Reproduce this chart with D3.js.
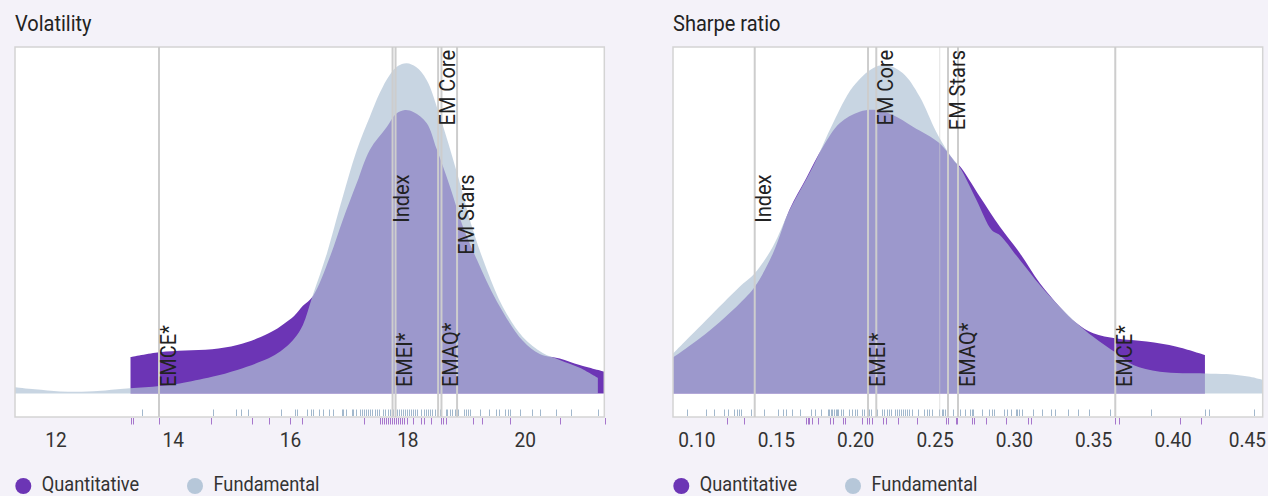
<!DOCTYPE html>
<html>
<head>
<meta charset="utf-8">
<script src="https://cdn.jsdelivr.net/npm/d3@7"></script>
<style>
  html, body { margin: 0; padding: 0; background: #f4f2f9; }
  svg { display: block; }
  text { font-family: Roboto, "Noto Sans", sans-serif; }
</style>
</head>
<body>
<svg id="chart" width="1268" height="496"></svg>
<script>
// ---------------- DATA ----------------
const seriesNames = ["Quantitative", "Fundamental"];
const panelTitles = ["Volatility", "Sharpe ratio"];

const volDomain = [11.30, 21.35];
const volTicks = [12, 14, 16, 18, 20];
const sharpeDomain = [0.0849, 0.4565];
const sharpeTicks = [0.10, 0.15, 0.20, 0.25, 0.30, 0.35, 0.40, 0.45];

// density curves: [value, relative density]
const volFundDensity = [
  [11.30,0.018],[11.64,0.012],[12.07,0.006],[12.44,0.005],[12.84,0.009],[13.26,0.015],
  [13.77,0.022],[14.11,0.029],[14.66,0.048],[15.09,0.068],[15.49,0.092],[15.73,0.111],
  [15.92,0.134],[16.07,0.160],[16.21,0.198],[16.38,0.284],[16.62,0.405],[16.84,0.538],
  [17.13,0.703],[17.35,0.798],[17.52,0.867],[17.69,0.919],[17.83,0.945],[17.98,0.953],
  [18.14,0.942],[18.32,0.905],[18.55,0.798],[18.84,0.636],[19.11,0.472],[19.35,0.356],
  [19.62,0.250],[19.96,0.163],[20.30,0.117],[20.59,0.097],[20.93,0.074],[21.24,0.045]
];
const volQuantDensity = [
  [13.27,0.105],[13.76,0.119],[14.20,0.124],[14.66,0.128],[15.09,0.140],[15.49,0.163],
  [15.73,0.183],[15.90,0.203],[16.06,0.224],[16.21,0.253],[16.38,0.281],[16.67,0.394],
  [16.89,0.501],[17.13,0.608],[17.35,0.703],[17.64,0.769],[17.80,0.807],[17.95,0.818],
  [18.10,0.812],[18.32,0.781],[18.49,0.706],[18.72,0.596],[18.94,0.481],[19.18,0.385],
  [19.52,0.265],[19.96,0.152],[20.25,0.114],[20.59,0.101],[20.93,0.082],[21.35,0.063]
];
const sharpeFundDensity = [
  [0.0849,0.115],[0.1059,0.212],[0.1269,0.308],[0.1364,0.347],[0.1479,0.424],[0.1584,0.530],
  [0.1731,0.655],[0.1857,0.780],[0.1983,0.885],[0.2109,0.939],[0.2193,0.948],[0.2298,0.924],
  [0.2403,0.857],[0.2508,0.755],[0.2592,0.690],[0.2657,0.652],[0.2762,0.558],[0.2857,0.472],
  [0.2909,0.457],[0.3035,0.385],[0.3161,0.313],[0.3287,0.250],[0.3393,0.203],[0.3497,0.164],
  [0.3645,0.116],[0.3749,0.082],[0.3917,0.063],[0.4201,0.058],[0.4338,0.056],[0.4485,0.048],
  [0.4565,0.039]
];
const sharpeQuantDensity = [
  [0.0849,0.104],[0.1059,0.174],[0.1269,0.260],[0.1364,0.308],[0.1479,0.405],[0.1584,0.532],
  [0.1689,0.622],[0.1794,0.712],[0.1899,0.780],[0.2025,0.813],[0.2130,0.818],[0.2235,0.804],
  [0.2361,0.770],[0.2529,0.722],[0.2634,0.664],[0.2657,0.656],[0.2783,0.568],[0.2909,0.481],
  [0.3035,0.405],[0.3161,0.318],[0.3287,0.250],[0.3393,0.203],[0.3497,0.174],[0.3645,0.159],
  [0.3834,0.150],[0.4023,0.135],[0.4201,0.111]
];

// rug values (individual funds)
const volFundRug = [13.46,14.67,15.07,15.15,15.28,15.84,16.08,16.11,16.28,16.35,16.39,16.48,16.55,
  16.65,16.73,16.87,16.90,16.95,17.04,17.07,17.11,17.18,17.22,17.25,17.28,17.32,17.35,17.39,17.44,
  17.47,17.51,17.58,17.61,17.66,17.69,17.74,17.78,17.81,17.85,17.88,17.91,17.95,17.98,18.02,18.05,
  18.08,18.12,18.15,18.23,18.27,18.31,18.35,18.37,18.42,18.46,18.50,18.55,18.65,18.67,18.72,18.76,
  18.80,18.85,18.95,18.99,19.03,19.06,19.23,19.38,19.51,19.56,19.66,19.71,19.75,19.91,20.11,20.25,
  20.52,20.79,21.24];
const volQuantRug = [13.27,13.32,13.76,14.64,15.34,15.63,15.99,16.20,17.26,17.52,17.56,17.59,17.62,
  17.66,17.69,17.73,17.76,17.80,17.83,17.86,17.90,17.93,17.98,18.08,18.22,18.28,18.40,18.57,18.60,
  18.65,19.11,19.26,19.74,20.60,21.36];
const sharpeFundRug = [0.0939,0.1055,0.1109,0.1172,0.1197,0.1235,0.1250,0.1265,0.1277,0.1340,0.1424,
  0.1512,0.1540,0.1561,0.1601,0.1649,0.1718,0.1744,0.1779,0.1824,0.1835,0.1845,0.1854,0.1863,0.1873,
  0.1882,0.1890,0.1907,0.1922,0.1958,0.1975,0.1997,0.2006,0.2038,0.2052,0.2084,0.2096,0.2136,0.2166,
  0.2178,0.2195,0.2212,0.2222,0.2248,0.2260,0.2273,0.2285,0.2298,0.2311,0.2323,0.2336,0.2353,0.2394,
  0.2430,0.2447,0.2462,0.2479,0.2527,0.2541,0.2553,0.2563,0.2573,0.2611,0.2657,0.2692,0.2720,0.2731,
  0.2741,0.2794,0.2842,0.2857,0.2871,0.2934,0.2951,0.2977,0.3010,0.3018,0.3031,0.3046,0.3115,0.3172,
  0.3229,0.3256,0.3340,0.3403,0.3470,0.3602,0.3859,0.4201,0.4228,0.4510];
const sharpeQuantRug = [0.1187,0.1296,0.1687,0.1698,0.1708,0.1723,0.1764,0.1838,0.1859,0.1918,0.1931,
  0.2038,0.2069,0.2086,0.2101,0.2174,0.2189,0.2268,0.2388,0.2569,0.2584,0.2632,0.2640,0.2731,0.2745,
  0.2819,0.2947,0.3088,0.3103,0.3634,0.3661,0.4043,0.4176];

// reference funds marked by vertical lines
const volMarkerNames  = ["EMCE*", "Index", "EMEI*", "EM Core", "EMAQ*", "EM Stars"];
const volMarkerValues = [13.756, 17.739, 17.790, 18.516, 18.573, 18.839];
const sharpeMarkerNames  = ["Index", "EMEI*", "EM Core", "", "EM Stars", "EMAQ*", "EMCE*"];
const sharpeMarkerValues = [0.1364, 0.2078, 0.2130, 0.2530, 0.2582, 0.2645, 0.3636];

// ---------------- DRAWING ----------------
const COLORS = { quant: "#6c35b5", fund: "#b0c3d6", fundRug: "#a2b8cd", quantRug: "#a676cc",
                 line: "#cdcdcd", box: "#d4d4d4", text: "#222" };
const SQ = 0.91; // condensed text factor
const boxTop = 47, baseY = 393.5, boxBottom = 417;

const svg = d3.select("#chart");

const panels = [
  { title: panelTitles[0], domain: volDomain, ticks: volTicks, fmt: d3.format("d"),
    fund: volFundDensity, quant: volQuantDensity, fundRug: volFundRug, quantRug: volQuantRug,
    names: volMarkerNames, values: volMarkerValues, x0: 15, x1: 604.3 },
  { title: panelTitles[1], domain: sharpeDomain, ticks: sharpeTicks, fmt: d3.format(".2f"),
    fund: sharpeFundDensity, quant: sharpeQuantDensity, fundRug: sharpeFundRug, quantRug: sharpeQuantRug,
    names: sharpeMarkerNames, values: sharpeMarkerValues, x0: 673, x1: 1262.7 }
];

function ctext(g, x, y, str, size, opts = {}) {
  return g.append("text")
    .attr("transform", `translate(${x},${y})${opts.rotate ? " rotate(-90)" : ""} scale(${SQ},1)`)
    .attr("font-size", size)
    .attr("font-weight", opts.weight || 400)
    .attr("fill", opts.fill || COLORS.text)
    .attr("text-anchor", opts.anchor || "start")
    .text(str);
}

panels.forEach(p => {
  const g = svg.append("g");
  const x = d3.scaleLinear().domain(p.domain).range([p.x0, p.x1]);
  const y = d3.scaleLinear().domain([0, 1]).range([baseY, boxTop]);

  // title
  ctext(g, p.x0, 30.5, p.title, 22, { fill: "#222" });

  // plot box background
  g.append("rect").attr("x", p.x0).attr("y", boxTop)
    .attr("width", p.x1 - p.x0).attr("height", boxBottom - boxTop)
    .attr("fill", "#fff");

  const area = d3.area()
    .x(d => x(d[0])).y0(y(0)).y1(d => y(d[1]))
    .curve(d3.curveCatmullRom.alpha(0.5));

  g.append("path").datum(p.quant).attr("d", area).attr("fill", COLORS.quant);
  g.append("path").datum(p.fund).attr("d", area).attr("fill", COLORS.fund).attr("fill-opacity", 0.7);

  // fundamental rug (inside box)
  g.selectAll(".rf").data(p.fundRug).join("line")
    .attr("x1", d => Math.round(x(d)) + 0.5).attr("x2", d => Math.round(x(d)) + 0.5)
    .attr("y1", 409.5).attr("y2", 416)
    .attr("stroke", COLORS.fundRug).attr("stroke-width", 1);

  // box border
  g.append("rect").attr("x", p.x0).attr("y", boxTop)
    .attr("width", p.x1 - p.x0).attr("height", boxBottom - boxTop)
    .attr("fill", "none").attr("stroke", COLORS.box).attr("stroke-width", 1.5);

  // quantitative rug (below box)
  g.selectAll(".rq").data(p.quantRug).join("line")
    .attr("x1", d => Math.round(x(d)) + 0.5).attr("x2", d => Math.round(x(d)) + 0.5)
    .attr("y1", 418).attr("y2", 424.5)
    .attr("stroke", COLORS.quantRug).attr("stroke-width", 1);

  // marker lines
  p.values.forEach((v, i) => {
    const named = p.names[i] !== "";
    g.append("line")
      .attr("x1", x(v)).attr("x2", x(v)).attr("y1", boxTop).attr("y2", boxBottom)
      .attr("stroke", COLORS.line)
      .attr("stroke-width", named ? 2 : 1)
      .attr("stroke-opacity", named ? 1 : 0.6);
  });

  // marker labels: starred at bottom, Index in the middle, others on top (pushed to middle if crowded)
  const topXs = [];
  p.values.forEach((v, i) => {
    const name = p.names[i];
    if (!name) return;
    const lx = x(v) + 16.5;
    if (name.endsWith("*")) {
      ctext(g, lx, 387, name, 22, { rotate: true, anchor: "start" });
    } else if (name === "Index" || topXs.some(t => Math.abs(t - x(v)) < 22)) {
      ctext(g, lx, 174.5, name, 22, { rotate: true, anchor: "end" });
    } else {
      topXs.push(x(v));
      ctext(g, lx, 50, name, 22, { rotate: true, anchor: "end" });
    }
  });

  // tick labels
  p.ticks.forEach(t => {
    const el = ctext(g, x(t), 446.7, p.fmt(t), 21, { anchor: "middle", fill: "#333" });
    const w = el.node().getComputedTextLength() * SQ;
    if (x(t) + w / 2 > 1266) {
      el.attr("transform", `translate(${1266 - w / 2},446.7) scale(${SQ},1)`);
    }
  });

  // legend
  const legY = 486;
  [[seriesNames[0], COLORS.quant, 8.3], [seriesNames[1], "#b6c7d9", 180]].forEach(([name, col, off]) => {
    g.append("circle").attr("cx", p.x0 + off).attr("cy", legY).attr("r", 8).attr("fill", col);
    ctext(g, p.x0 + off + 18.5, 490.5, name, 20, { fill: "#333" });
  });
});
</script>
</body>
</html>
